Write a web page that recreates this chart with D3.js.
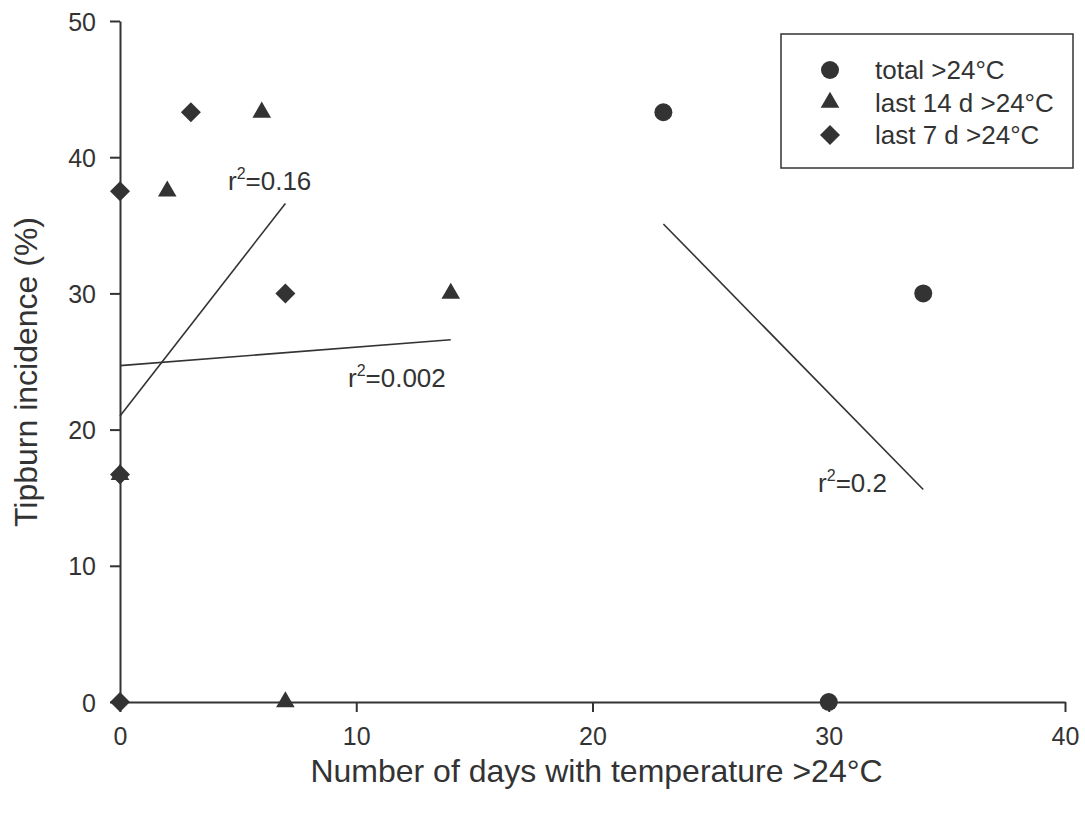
<!DOCTYPE html>
<html>
<head>
<meta charset="utf-8">
<script src="https://cdn.jsdelivr.net/npm/d3@7/dist/d3.min.js"></script>
<style>
  html, body { margin: 0; padding: 0; background: #fff; }
  svg { display: block; font-family: "Liberation Sans", Arial, sans-serif; }
</style>
</head>
<body>
<svg id="chart" width="1085" height="818"></svg>
<script>
// ---- data ----
const totalX = [23, 34, 30];
const totalY = [43.3, 30, 0];
const last14X = [0, 2, 6, 14, 7];
const last14Y = [16.7, 37.5, 43.3, 30, 0];
const last7X = [0, 3, 7, 0, 0];
const last7Y = [37.5, 43.3, 30, 16.7, 0];

// regression lines: [x0, y0, x1, y1] in data units
const fit7 = [0, 21.0, 7, 36.6];
const fit14 = [0, 24.7, 14, 26.6];
const fitTotal = [23, 35.1, 34, 15.6];

const fitLabels = ["=0.16", "=0.002", "=0.2"];
const fitLabelPos = [[4.57, 37.6], [9.65, 23.1], [29.55, 15.4]];

const xTicks = [0, 10, 20, 30, 40];
const yTicks = [0, 10, 20, 30, 40, 50];
const legendLabels = ["total >24°C", "last 14 d >24°C", "last 7 d >24°C"];
const xTitle = "Number of days with temperature >24°C";
const yTitle = "Tipburn incidence (%)";

// ---- layout ----
const ink = "#333333";
const svg = d3.select("#chart");
const x = d3.scaleLinear().domain([0, 40]).range([120, 1065]);
const y = d3.scaleLinear().domain([0, 50]).range([702, 21]);

// axes
const xAxis = d3.axisBottom(x).tickValues(xTicks).tickSize(10).tickSizeOuter(0).tickPadding(12);
const yAxis = d3.axisLeft(y).tickValues(yTicks).tickSize(10).tickSizeOuter(0).tickPadding(14);

const gx = svg.append("g").attr("transform", `translate(0,${y(0)})`).call(xAxis);
const gy = svg.append("g").attr("transform", `translate(${x(0)},0)`).call(yAxis);
[gx, gy].forEach(g => {
  g.select(".domain").attr("stroke", ink).attr("stroke-width", 2);
  g.selectAll(".tick line").attr("stroke", ink).attr("stroke-width", 2);
  g.selectAll(".tick text").attr("fill", ink).attr("font-size", 25)
    .attr("font-family", "Liberation Sans, Arial, sans-serif");
});
gx.selectAll(".tick text").attr("dy", "0.85em");
gy.selectAll(".tick text").attr("dy", "0.36em");

// titles
svg.append("text").attr("x", (x(0) + x(40)) / 2 + 4).attr("y", 782)
  .attr("text-anchor", "middle").attr("font-size", 32).attr("fill", ink).text(xTitle);
svg.append("text").attr("transform", `translate(37,${372}) rotate(-90)`)
  .attr("text-anchor", "middle").attr("font-size", 32).attr("fill", ink).text(yTitle);

// fit lines
[fit7, fit14, fitTotal].forEach(f => {
  svg.append("line")
    .attr("x1", x(f[0])).attr("y1", y(f[1]))
    .attr("x2", x(f[2])).attr("y2", y(f[3]))
    .attr("stroke", ink).attr("stroke-width", 1.6);
});

// fit labels
fitLabels.forEach((lab, i) => {
  const t = svg.append("text")
    .attr("x", x(fitLabelPos[i][0])).attr("y", y(fitLabelPos[i][1]))
    .attr("font-size", 26).attr("fill", ink);
  t.append("tspan").text("r");
  t.append("tspan").attr("font-size", 16).attr("dy", -11).text("2");
  t.append("tspan").attr("dy", 11).text(lab);
});

// markers
const symCircle = d3.symbol().type(d3.symbolCircle).size(Math.PI * 9 * 9);
const symTri = d3.symbol().type(d3.symbolTriangle).size(150);
const symDiamond = d3.symbol().type(d3.symbolSquare).size(200);

function drawPoints(xs, ys, sym, rotate) {
  svg.append("g").selectAll("path").data(xs.map((v, i) => [v, ys[i]])).join("path")
    .attr("d", sym)
    .attr("transform", d => `translate(${x(d[0])},${y(d[1])})` + (rotate ? " rotate(45)" : ""))
    .attr("fill", ink);
}
drawPoints(last14X, last14Y, symTri, false);
drawPoints(totalX, totalY, symCircle, false);
drawPoints(last7X, last7Y, symDiamond, true);

// legend
const lg = svg.append("g");
lg.append("rect").attr("x", 781).attr("y", 34).attr("width", 292).attr("height", 134)
  .attr("fill", "#fff").attr("stroke", ink).attr("stroke-width", 1.5);
const legendSyms = [symCircle, symTri, symDiamond];
const legendRot = [false, false, true];
legendLabels.forEach((lab, i) => {
  const cy = 70 + i * 32.5;
  lg.append("path").attr("d", legendSyms[i])
    .attr("transform", `translate(830,${cy})` + (legendRot[i] ? " rotate(45)" : ""))
    .attr("fill", ink);
  lg.append("text").attr("x", 875).attr("y", cy).attr("dy", "0.36em")
    .attr("font-size", 26).attr("fill", ink).text(lab);
});
</script>
</body>
</html>
